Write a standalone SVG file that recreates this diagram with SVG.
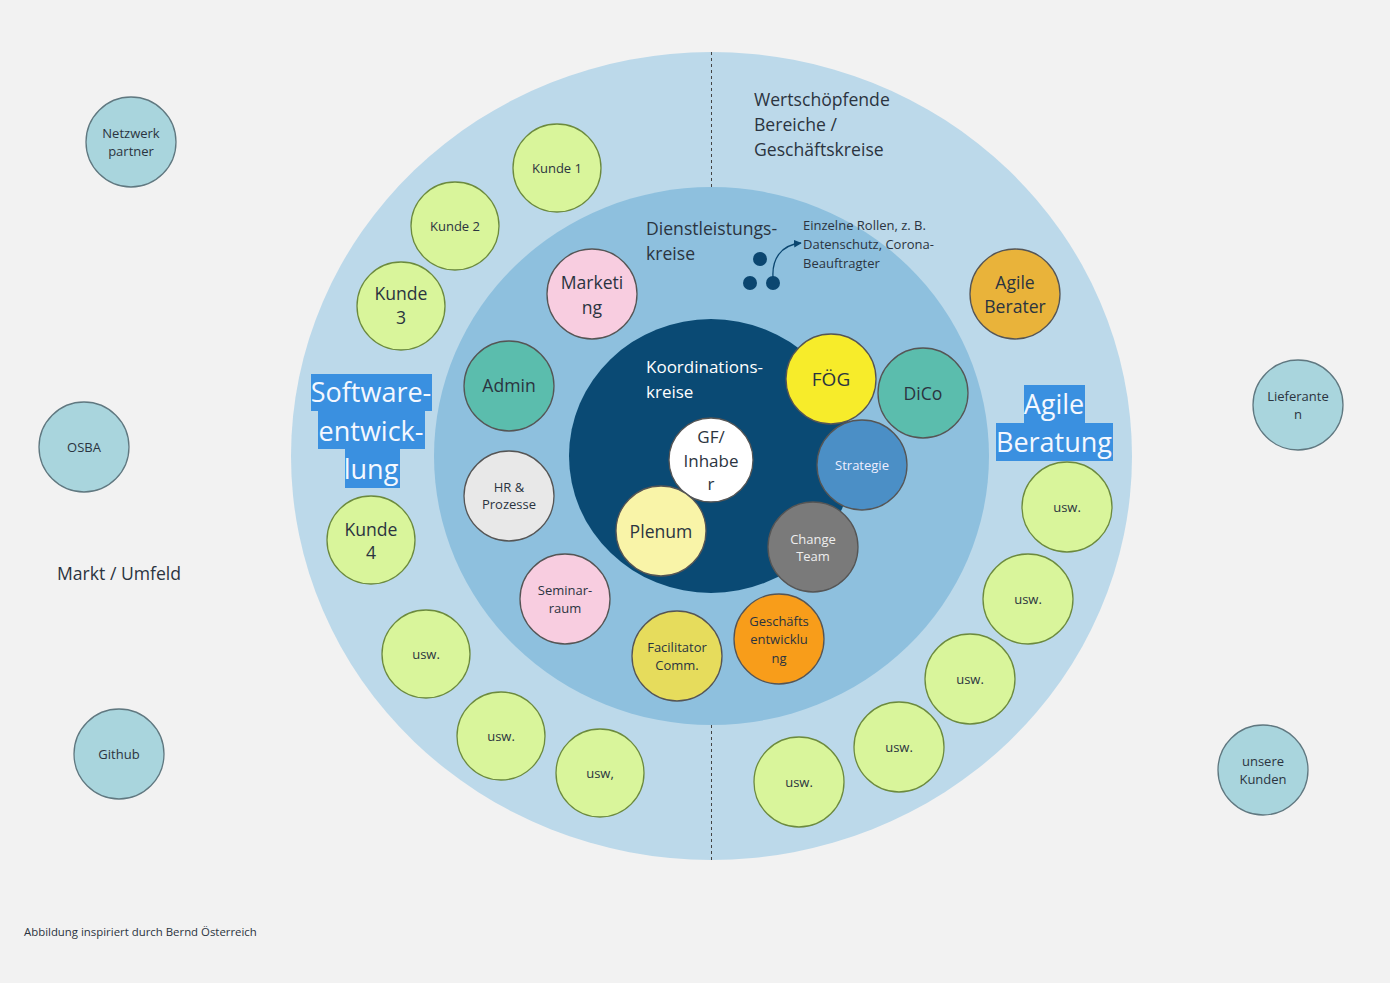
<svg xmlns="http://www.w3.org/2000/svg" width="1390" height="983" viewBox="0 0 1390 983">
<style>
text{font-family:"Open Sans","Noto Sans","Liberation Sans",sans-serif;fill:#2b3440}
.c{stroke:#555;stroke-width:1.3}
.ext{fill:#a9d5dd;stroke:#607880}
.grn{fill:#d9f59b;stroke:#6c8a3e}
.m{text-anchor:middle}
.s13{font-size:13px}
.s16{font-size:16px}
.s18{font-size:17.6px}
.hl{fill:#3a90e0}
.w{fill:#fff}
</style>
<defs>
<marker id="ah" viewBox="0 0 10 10" refX="9" refY="5" markerWidth="6" markerHeight="6" orient="auto"><path d="M0,0 L10,5 L0,10 z" fill="#0b4670"/></marker>
</defs>
<rect width="1390" height="983" fill="#f2f2f2"/>
<g id="rings">
<ellipse cx="711.5" cy="456" rx="420.5" ry="404" fill="#bcd9ea"/>
<ellipse cx="711.5" cy="456" rx="277.5" ry="269" fill="#8ec0de"/>
<ellipse cx="711" cy="456" rx="142" ry="137" fill="#0a4a74"/>
</g>
<g id="connectors">
<line x1="711.5" y1="52" x2="711.5" y2="187" stroke="#444" stroke-width="1" stroke-dasharray="3,3"/>
<line x1="711.5" y1="725" x2="711.5" y2="860" stroke="#444" stroke-width="1" stroke-dasharray="3,3"/>
<path d="M773,277 C772,260 780,245 801,243" fill="none" stroke="#0b4670" stroke-width="1.3" marker-end="url(#ah)"/>
</g>
<g id="dots">
<circle cx="760" cy="259" r="7" fill="#0b4670"/>
<circle cx="750" cy="283" r="7" fill="#0b4670"/>
<circle cx="773" cy="283" r="7" fill="#0b4670"/>
</g>
<g id="labels">
<text class="s18" x="754" y="106">Wertschöpfende</text>
<text class="s18" x="754" y="131">Bereiche /</text>
<text class="s18" x="754" y="156">Geschäftskreise</text>
<text class="s18" x="646" y="235">Dienstleistungs-</text>
<text class="s18" x="646" y="260">kreise</text>
<text class="s13" x="803" y="230">Einzelne Rollen, z. B.</text>
<text class="s13" x="803" y="249">Datenschutz, Corona-</text>
<text class="s13" x="803" y="268">Beauftragter</text>
<text class="s18" x="646" y="373" style="fill:#fff;font-size:17px">Koordinations-</text>
<text class="s18" x="646" y="398" style="fill:#fff;font-size:17px">kreise</text>
<text class="s18" x="57" y="580">Markt / Umfeld</text>
<text x="24" y="936" style="font-size:11.4px">Abbildung inspiriert durch Bernd Österreich</text>
</g>
<g id="software-label">
<rect class="hl" x="311" y="374" width="121" height="37"/>
<rect class="hl" x="318" y="411" width="107" height="38"/>
<rect class="hl" x="345" y="449" width="55" height="39"/>
<text class="m" x="371" y="402" style="fill:#f4f8ff;font-size:27px">Software-</text>
<text class="m" x="371" y="441" style="fill:#f4f8ff;font-size:27px">entwick-</text>
<text class="m" x="371" y="479" style="fill:#f4f8ff;font-size:27px">lung</text>
</g>
<g id="agile-label">
<rect class="hl" x="1024" y="385" width="61" height="38"/>
<rect class="hl" x="996" y="423" width="117" height="38"/>
<text class="m" x="1054" y="414" style="fill:#f4f8ff;font-size:27px">Agile</text>
<text class="m" x="1054" y="452" style="fill:#f4f8ff;font-size:27px">Beratung</text>
</g>
<g id="netzwerk"><circle class="c ext" cx="131" cy="142" r="45"/><text class="m s13" x="131" y="138">Netzwerk</text><text class="m s13" x="131" y="156">partner</text></g>
<g id="osba"><circle class="c ext" cx="84" cy="447" r="45"/><text class="m s13" x="84" y="452">OSBA</text></g>
<g id="github"><circle class="c ext" cx="119" cy="754" r="45"/><text class="m s13" x="119" y="759">Github</text></g>
<g id="lieferanten"><circle class="c ext" cx="1298" cy="405" r="45"/><text class="m s13" x="1298" y="401">Lieferante</text><text class="m s13" x="1298" y="419">n</text></g>
<g id="unsere-kunden"><circle class="c ext" cx="1263" cy="770" r="45"/><text class="m s13" x="1263" y="766">unsere</text><text class="m s13" x="1263" y="784">Kunden</text></g>
<g id="kunde1"><circle class="c grn" cx="557" cy="168" r="44"/><text class="m s13" x="557" y="173">Kunde 1</text></g>
<g id="kunde2"><circle class="c grn" cx="455" cy="226" r="44"/><text class="m s13" x="455" y="231">Kunde 2</text></g>
<g id="kunde3"><circle class="c grn" cx="401" cy="306" r="44"/><text class="m s18" x="401" y="300">Kunde</text><text class="m s18" x="401" y="324">3</text></g>
<g id="kunde4"><circle class="c grn" cx="371" cy="540" r="44"/><text class="m s18" x="371" y="536">Kunde</text><text class="m s18" x="371" y="559">4</text></g>
<g id="usw-l1"><circle class="c grn" cx="426" cy="654" r="44"/><text class="m s13" x="426" y="659">usw.</text></g>
<g id="usw-l2"><circle class="c grn" cx="501" cy="736" r="44"/><text class="m s13" x="501" y="741">usw.</text></g>
<g id="usw-l3"><circle class="c grn" cx="600" cy="773" r="44"/><text class="m s13" x="600" y="778">usw,</text></g>
<g id="usw-r1"><circle class="c grn" cx="1067" cy="507" r="45"/><text class="m s13" x="1067" y="512">usw.</text></g>
<g id="usw-r2"><circle class="c grn" cx="1028" cy="599" r="45"/><text class="m s13" x="1028" y="604">usw.</text></g>
<g id="usw-r3"><circle class="c grn" cx="970" cy="679" r="45"/><text class="m s13" x="970" y="684">usw.</text></g>
<g id="usw-r4"><circle class="c grn" cx="899" cy="747" r="45"/><text class="m s13" x="899" y="752">usw.</text></g>
<g id="usw-r5"><circle class="c grn" cx="799" cy="782" r="45"/><text class="m s13" x="799" y="787">usw.</text></g>
<g id="agile-berater"><circle class="c" cx="1015" cy="294" r="45" fill="#e9b33a"/><text class="m s18" x="1015" y="289">Agile</text><text class="m s18" x="1015" y="313">Berater</text></g>
<g id="marketing"><circle class="c" cx="592" cy="294" r="45" fill="#f8cde0"/><text class="m s18" x="592" y="289">Marketi</text><text class="m s18" x="592" y="314">ng</text></g>
<g id="admin"><circle class="c" cx="509" cy="386" r="45" fill="#5bbdad"/><text class="m s18" x="509" y="392">Admin</text></g>
<g id="hr"><circle class="c" cx="509" cy="496" r="45" fill="#e8e8e8"/><text class="m s13" x="509" y="492">HR &amp;</text><text class="m s13" x="509" y="509">Prozesse</text></g>
<g id="seminarraum"><circle class="c" cx="565" cy="599" r="45" fill="#f8cde0"/><text class="m s13" x="565" y="595">Seminar-</text><text class="m s13" x="565" y="613">raum</text></g>
<g id="facilitator"><circle class="c" cx="677" cy="656" r="45" fill="#e6dc5c"/><text class="m s13" x="677" y="652">Facilitator</text><text class="m s13" x="677" y="670">Comm.</text></g>
<g id="geschaeftsentwicklung"><circle class="c" cx="779" cy="639" r="45" fill="#f89d1a"/><text class="m s13" x="779" y="626">Geschäfts</text><text class="m s13" x="779" y="644">entwicklu</text><text class="m s13" x="779" y="663">ng</text></g>
<g id="change-team"><circle class="c" cx="813" cy="547" r="45" fill="#7a7a7a"/><text class="m s13" x="813" y="544" style="fill:#eee">Change</text><text class="m s13" x="813" y="561" style="fill:#eee">Team</text></g>
<g id="strategie"><circle class="c" cx="862" cy="465" r="45" fill="#4b8fc6"/><text class="m s13" x="862" y="470" style="fill:#eef">Strategie</text></g>
<g id="dico"><circle class="c" cx="923" cy="393" r="45" fill="#5bbdad"/><text class="m s18" x="923" y="400">DiCo</text></g>
<g id="foeg"><circle class="c" cx="831" cy="379" r="45" fill="#f7ec2a"/><text class="m s18" x="831" y="386" style="font-size:19px">FÖG</text></g>
<g id="gf"><circle class="c" cx="711" cy="460" r="42" fill="#ffffff"/><text class="m s16" x="711" y="443" style="font-size:17px">GF/</text><text class="m s16" x="711" y="467" style="font-size:17px">Inhabe</text><text class="m s16" x="711" y="490" style="font-size:17px">r</text></g>
<g id="plenum"><circle class="c" cx="661" cy="531" r="45" fill="#f9f4a8"/><text class="m s18" x="661" y="538">Plenum</text></g>
</svg>
